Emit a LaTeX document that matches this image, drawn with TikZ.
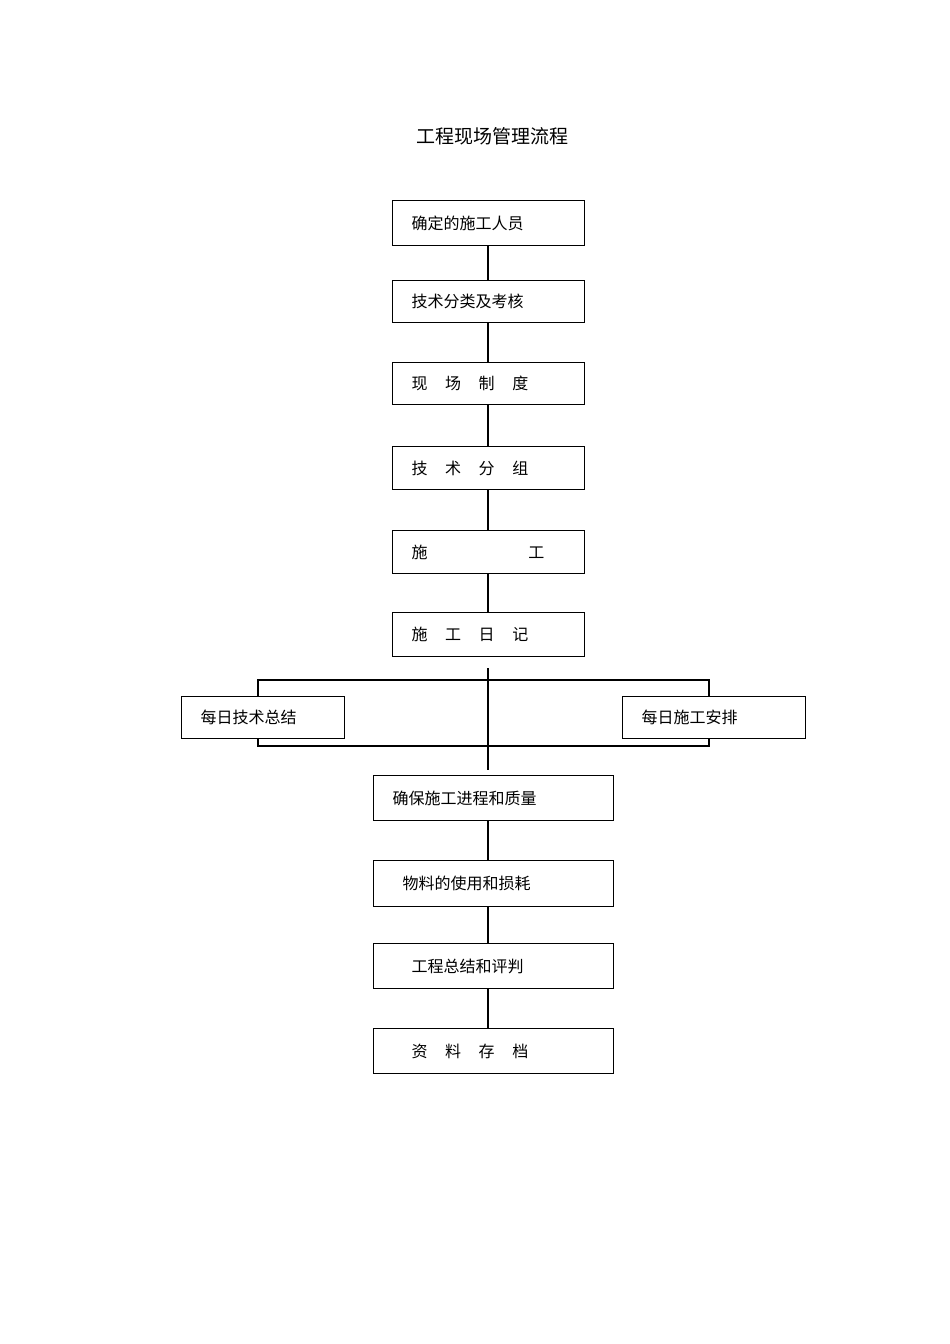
\documentclass[tikz,border=0pt]{standalone}
\usepackage{fontspec}
\newfontfamily\cjk{Noto Sans CJK SC}
\begin{document}
\begin{tikzpicture}[x=1pt,y=-1pt,
  bx/.style={draw,line width=1.3pt,anchor=north west,inner sep=0pt,font=\cjk\fontsize{16}{16}\selectfont},
  ln/.style={line width=1.3pt}]
\useasboundingbox (0,0) rectangle (950,1344);
\node[font=\cjk\fontsize{19}{19}\selectfont] (title) at (492,136) {工程现场管理流程};
\newcommand\cbox[5]{\node[bx,minimum width=#3pt,minimum height=#4pt] (#1) at (#2) {};
  \node[anchor=west,font=\cjk\fontsize{16}{16}\selectfont] at ([xshift=16pt]#1.west) {#5};}
\cbox{b1}{392,200}{192}{45}{确定的施工人员}
\cbox{b2}{392,280}{192}{42}{技术分类及考核}
\cbox{b3}{392,362}{192}{42}{现\hspace{1.1em}场\hspace{1.1em}制\hspace{1.1em}度}
\cbox{b4}{392,446}{192}{43}{技\hspace{1.1em}术\hspace{1.1em}分\hspace{1.1em}组}
\cbox{b5}{392,530}{192}{43}{施\hspace{6.3em}工}
\cbox{b6}{392,612}{192}{44}{施\hspace{1.1em}工\hspace{1.1em}日\hspace{1.1em}记}
\cbox{l}{181,696}{163}{42}{每日技术总结}
\cbox{r}{622,696}{183}{42}{每日施工安排}
\cbox{c1}{373,775}{240}{45}{确保施工进程和质量}
\node[bx,minimum width=240pt,minimum height=46pt] (c2) at (373,860) {};
\node[anchor=west,font=\cjk\fontsize{16}{16}\selectfont] at ([xshift=26pt]c2.west) {物料的使用和损耗};
\node[bx,minimum width=240pt,minimum height=45pt] (c3) at (373,943) {};
\node[anchor=west,font=\cjk\fontsize{16}{16}\selectfont] at ([xshift=35pt]c3.west) {工程总结和评判};
\node[bx,minimum width=240pt,minimum height=45pt] (c4) at (373,1028) {};
\node[anchor=west,font=\cjk\fontsize{16}{16}\selectfont] at ([xshift=35pt]c4.west) {资\hspace{1.1em}料\hspace{1.1em}存\hspace{1.1em}档};
\foreach \a/\b in {b1/b2,b2/b3,b3/b4,b4/b5,b5/b6}{\draw[ln] (488,0 |- \a.south) -- (488,0 |- \b.north);}
\coordinate (t1) at (488,668); \coordinate (t2) at (488,770);
\draw[ln] (t1) -- (t2);
\draw[ln] (258,0 |- l.north) -- (258,680) -- (709,680) -- (709,0 |- r.north);
\draw[ln] (258,0 |- l.south) -- (258,746) -- (709,746) -- (709,0 |- r.south);
\foreach \a/\b in {c1/c2,c2/c3,c3/c4}{\draw[ln] (488,0 |- \a.south) -- (488,0 |- \b.north);}
\end{tikzpicture}
\end{document}
